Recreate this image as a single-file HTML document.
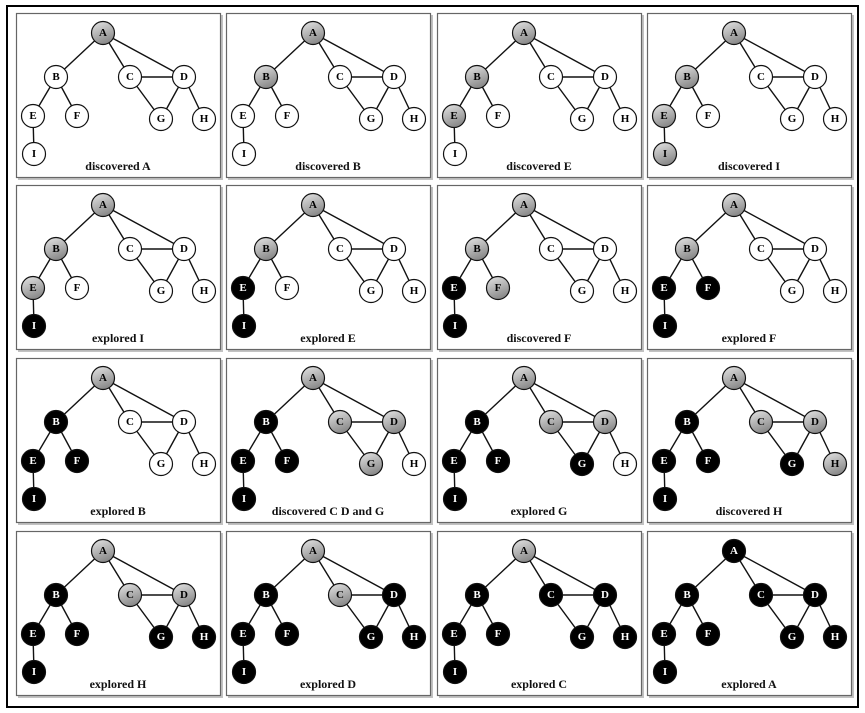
<!DOCTYPE html>
<html><head><meta charset="utf-8"><style>
html,body{margin:0;padding:0;background:#fff;}
svg{display:block;}
text{font-family:"Liberation Serif",serif;font-weight:bold;}
.n{font-size:11px;text-anchor:middle;dominant-baseline:central;}
.l{font-size:12px;text-anchor:middle;fill:#111;}
.w{fill:#fff;} .k{fill:#000;}
</style></head><body>
<svg width="865" height="713" viewBox="0 0 865 713" xmlns="http://www.w3.org/2000/svg">
<defs>
<linearGradient id="gr" x1="0" y1="0" x2="0.4" y2="1">
<stop offset="0" stop-color="#e6e6e6"/><stop offset="1" stop-color="#8c8c8c"/>
</linearGradient>
<g id="p">
<rect x="2" y="2" width="205" height="165" fill="#999" opacity="0.6"/>
<rect x="0.5" y="0.5" width="204" height="164" fill="#fff" stroke="#666" stroke-width="1.2"/>
<g stroke="#111" stroke-width="1.4">
<line x1="87" y1="20" x2="40" y2="64"/><line x1="87" y1="20" x2="114" y2="64"/><line x1="87" y1="20" x2="168" y2="64"/>
<line x1="40" y1="64" x2="17" y2="103"/><line x1="40" y1="64" x2="61" y2="103"/>
<line x1="114" y1="64" x2="168" y2="64"/><line x1="114" y1="64" x2="145" y2="106"/>
<line x1="168" y1="64" x2="145" y2="106"/><line x1="168" y1="64" x2="188" y2="106"/>
<line x1="17" y1="103" x2="18" y2="141"/>
</g>
</g>
<circle id="A" cx="87" cy="20" r="11.5" stroke="#111" stroke-width="1.2"/>
<circle id="B" cx="40" cy="64" r="11.5" stroke="#111" stroke-width="1.2"/>
<circle id="C" cx="114" cy="64" r="11.5" stroke="#111" stroke-width="1.2"/>
<circle id="D" cx="168" cy="64" r="11.5" stroke="#111" stroke-width="1.2"/>
<circle id="E" cx="17" cy="103" r="11.5" stroke="#111" stroke-width="1.2"/>
<circle id="F" cx="61" cy="103" r="11.5" stroke="#111" stroke-width="1.2"/>
<circle id="G" cx="145" cy="106" r="11.5" stroke="#111" stroke-width="1.2"/>
<circle id="H" cx="188" cy="106" r="11.5" stroke="#111" stroke-width="1.2"/>
<circle id="I" cx="18" cy="141" r="11.5" stroke="#111" stroke-width="1.2"/>
</defs>
<rect x="7" y="6" width="851" height="701" fill="none" stroke="#000" stroke-width="2"/>

<!-- Row 1 -->
<g transform="translate(16,13)"><use href="#p"/>
<use href="#A" fill="url(#gr)"/><use href="#B" fill="#fff"/><use href="#C" fill="#fff"/><use href="#D" fill="#fff"/><use href="#E" fill="#fff"/><use href="#F" fill="#fff"/><use href="#G" fill="#fff"/><use href="#H" fill="#fff"/><use href="#I" fill="#fff"/>
<text class="n k" x="87" y="20">A</text><text class="n k" x="40" y="64">B</text><text class="n k" x="114" y="64">C</text><text class="n k" x="168" y="64">D</text><text class="n k" x="17" y="103">E</text><text class="n k" x="61" y="103">F</text><text class="n k" x="145" y="106">G</text><text class="n k" x="188" y="106">H</text><text class="n k" x="18" y="141">I</text>
<text class="l" x="102" y="157">discovered A</text></g>

<g transform="translate(226,13)"><use href="#p"/>
<use href="#A" fill="url(#gr)"/><use href="#B" fill="url(#gr)"/><use href="#C" fill="#fff"/><use href="#D" fill="#fff"/><use href="#E" fill="#fff"/><use href="#F" fill="#fff"/><use href="#G" fill="#fff"/><use href="#H" fill="#fff"/><use href="#I" fill="#fff"/>
<text class="n k" x="87" y="20">A</text><text class="n k" x="40" y="64">B</text><text class="n k" x="114" y="64">C</text><text class="n k" x="168" y="64">D</text><text class="n k" x="17" y="103">E</text><text class="n k" x="61" y="103">F</text><text class="n k" x="145" y="106">G</text><text class="n k" x="188" y="106">H</text><text class="n k" x="18" y="141">I</text>
<text class="l" x="102" y="157">discovered B</text></g>

<g transform="translate(437,13)"><use href="#p"/>
<use href="#A" fill="url(#gr)"/><use href="#B" fill="url(#gr)"/><use href="#C" fill="#fff"/><use href="#D" fill="#fff"/><use href="#E" fill="url(#gr)"/><use href="#F" fill="#fff"/><use href="#G" fill="#fff"/><use href="#H" fill="#fff"/><use href="#I" fill="#fff"/>
<text class="n k" x="87" y="20">A</text><text class="n k" x="40" y="64">B</text><text class="n k" x="114" y="64">C</text><text class="n k" x="168" y="64">D</text><text class="n k" x="17" y="103">E</text><text class="n k" x="61" y="103">F</text><text class="n k" x="145" y="106">G</text><text class="n k" x="188" y="106">H</text><text class="n k" x="18" y="141">I</text>
<text class="l" x="102" y="157">discovered E</text></g>

<g transform="translate(647,13)"><use href="#p"/>
<use href="#A" fill="url(#gr)"/><use href="#B" fill="url(#gr)"/><use href="#C" fill="#fff"/><use href="#D" fill="#fff"/><use href="#E" fill="url(#gr)"/><use href="#F" fill="#fff"/><use href="#G" fill="#fff"/><use href="#H" fill="#fff"/><use href="#I" fill="url(#gr)"/>
<text class="n k" x="87" y="20">A</text><text class="n k" x="40" y="64">B</text><text class="n k" x="114" y="64">C</text><text class="n k" x="168" y="64">D</text><text class="n k" x="17" y="103">E</text><text class="n k" x="61" y="103">F</text><text class="n k" x="145" y="106">G</text><text class="n k" x="188" y="106">H</text><text class="n k" x="18" y="141">I</text>
<text class="l" x="102" y="157">discovered I</text></g>

<!-- Row 2 -->
<g transform="translate(16,185)"><use href="#p"/>
<use href="#A" fill="url(#gr)"/><use href="#B" fill="url(#gr)"/><use href="#C" fill="#fff"/><use href="#D" fill="#fff"/><use href="#E" fill="url(#gr)"/><use href="#F" fill="#fff"/><use href="#G" fill="#fff"/><use href="#H" fill="#fff"/><use href="#I" fill="#000"/>
<text class="n k" x="87" y="20">A</text><text class="n k" x="40" y="64">B</text><text class="n k" x="114" y="64">C</text><text class="n k" x="168" y="64">D</text><text class="n k" x="17" y="103">E</text><text class="n k" x="61" y="103">F</text><text class="n k" x="145" y="106">G</text><text class="n k" x="188" y="106">H</text><text class="n w" x="18" y="141">I</text>
<text class="l" x="102" y="157">explored I</text></g>

<g transform="translate(226,185)"><use href="#p"/>
<use href="#A" fill="url(#gr)"/><use href="#B" fill="url(#gr)"/><use href="#C" fill="#fff"/><use href="#D" fill="#fff"/><use href="#E" fill="#000"/><use href="#F" fill="#fff"/><use href="#G" fill="#fff"/><use href="#H" fill="#fff"/><use href="#I" fill="#000"/>
<text class="n k" x="87" y="20">A</text><text class="n k" x="40" y="64">B</text><text class="n k" x="114" y="64">C</text><text class="n k" x="168" y="64">D</text><text class="n w" x="17" y="103">E</text><text class="n k" x="61" y="103">F</text><text class="n k" x="145" y="106">G</text><text class="n k" x="188" y="106">H</text><text class="n w" x="18" y="141">I</text>
<text class="l" x="102" y="157">explored E</text></g>

<g transform="translate(437,185)"><use href="#p"/>
<use href="#A" fill="url(#gr)"/><use href="#B" fill="url(#gr)"/><use href="#C" fill="#fff"/><use href="#D" fill="#fff"/><use href="#E" fill="#000"/><use href="#F" fill="url(#gr)"/><use href="#G" fill="#fff"/><use href="#H" fill="#fff"/><use href="#I" fill="#000"/>
<text class="n k" x="87" y="20">A</text><text class="n k" x="40" y="64">B</text><text class="n k" x="114" y="64">C</text><text class="n k" x="168" y="64">D</text><text class="n w" x="17" y="103">E</text><text class="n k" x="61" y="103">F</text><text class="n k" x="145" y="106">G</text><text class="n k" x="188" y="106">H</text><text class="n w" x="18" y="141">I</text>
<text class="l" x="102" y="157">discovered F</text></g>

<g transform="translate(647,185)"><use href="#p"/>
<use href="#A" fill="url(#gr)"/><use href="#B" fill="url(#gr)"/><use href="#C" fill="#fff"/><use href="#D" fill="#fff"/><use href="#E" fill="#000"/><use href="#F" fill="#000"/><use href="#G" fill="#fff"/><use href="#H" fill="#fff"/><use href="#I" fill="#000"/>
<text class="n k" x="87" y="20">A</text><text class="n k" x="40" y="64">B</text><text class="n k" x="114" y="64">C</text><text class="n k" x="168" y="64">D</text><text class="n w" x="17" y="103">E</text><text class="n w" x="61" y="103">F</text><text class="n k" x="145" y="106">G</text><text class="n k" x="188" y="106">H</text><text class="n w" x="18" y="141">I</text>
<text class="l" x="102" y="157">explored F</text></g>

<!-- Row 3 -->
<g transform="translate(16,358)"><use href="#p"/>
<use href="#A" fill="url(#gr)"/><use href="#B" fill="#000"/><use href="#C" fill="#fff"/><use href="#D" fill="#fff"/><use href="#E" fill="#000"/><use href="#F" fill="#000"/><use href="#G" fill="#fff"/><use href="#H" fill="#fff"/><use href="#I" fill="#000"/>
<text class="n k" x="87" y="20">A</text><text class="n w" x="40" y="64">B</text><text class="n k" x="114" y="64">C</text><text class="n k" x="168" y="64">D</text><text class="n w" x="17" y="103">E</text><text class="n w" x="61" y="103">F</text><text class="n k" x="145" y="106">G</text><text class="n k" x="188" y="106">H</text><text class="n w" x="18" y="141">I</text>
<text class="l" x="102" y="157">explored B</text></g>

<g transform="translate(226,358)"><use href="#p"/>
<use href="#A" fill="url(#gr)"/><use href="#B" fill="#000"/><use href="#C" fill="url(#gr)"/><use href="#D" fill="url(#gr)"/><use href="#E" fill="#000"/><use href="#F" fill="#000"/><use href="#G" fill="url(#gr)"/><use href="#H" fill="#fff"/><use href="#I" fill="#000"/>
<text class="n k" x="87" y="20">A</text><text class="n w" x="40" y="64">B</text><text class="n k" x="114" y="64">C</text><text class="n k" x="168" y="64">D</text><text class="n w" x="17" y="103">E</text><text class="n w" x="61" y="103">F</text><text class="n k" x="145" y="106">G</text><text class="n k" x="188" y="106">H</text><text class="n w" x="18" y="141">I</text>
<text class="l" x="102" y="157">discovered C D and G</text></g>

<g transform="translate(437,358)"><use href="#p"/>
<use href="#A" fill="url(#gr)"/><use href="#B" fill="#000"/><use href="#C" fill="url(#gr)"/><use href="#D" fill="url(#gr)"/><use href="#E" fill="#000"/><use href="#F" fill="#000"/><use href="#G" fill="#000"/><use href="#H" fill="#fff"/><use href="#I" fill="#000"/>
<text class="n k" x="87" y="20">A</text><text class="n w" x="40" y="64">B</text><text class="n k" x="114" y="64">C</text><text class="n k" x="168" y="64">D</text><text class="n w" x="17" y="103">E</text><text class="n w" x="61" y="103">F</text><text class="n w" x="145" y="106">G</text><text class="n k" x="188" y="106">H</text><text class="n w" x="18" y="141">I</text>
<text class="l" x="102" y="157">explored G</text></g>

<g transform="translate(647,358)"><use href="#p"/>
<use href="#A" fill="url(#gr)"/><use href="#B" fill="#000"/><use href="#C" fill="url(#gr)"/><use href="#D" fill="url(#gr)"/><use href="#E" fill="#000"/><use href="#F" fill="#000"/><use href="#G" fill="#000"/><use href="#H" fill="url(#gr)"/><use href="#I" fill="#000"/>
<text class="n k" x="87" y="20">A</text><text class="n w" x="40" y="64">B</text><text class="n k" x="114" y="64">C</text><text class="n k" x="168" y="64">D</text><text class="n w" x="17" y="103">E</text><text class="n w" x="61" y="103">F</text><text class="n w" x="145" y="106">G</text><text class="n k" x="188" y="106">H</text><text class="n w" x="18" y="141">I</text>
<text class="l" x="102" y="157">discovered H</text></g>

<!-- Row 4 -->
<g transform="translate(16,531)"><use href="#p"/>
<use href="#A" fill="url(#gr)"/><use href="#B" fill="#000"/><use href="#C" fill="url(#gr)"/><use href="#D" fill="url(#gr)"/><use href="#E" fill="#000"/><use href="#F" fill="#000"/><use href="#G" fill="#000"/><use href="#H" fill="#000"/><use href="#I" fill="#000"/>
<text class="n k" x="87" y="20">A</text><text class="n w" x="40" y="64">B</text><text class="n k" x="114" y="64">C</text><text class="n k" x="168" y="64">D</text><text class="n w" x="17" y="103">E</text><text class="n w" x="61" y="103">F</text><text class="n w" x="145" y="106">G</text><text class="n w" x="188" y="106">H</text><text class="n w" x="18" y="141">I</text>
<text class="l" x="102" y="157">explored H</text></g>

<g transform="translate(226,531)"><use href="#p"/>
<use href="#A" fill="url(#gr)"/><use href="#B" fill="#000"/><use href="#C" fill="url(#gr)"/><use href="#D" fill="#000"/><use href="#E" fill="#000"/><use href="#F" fill="#000"/><use href="#G" fill="#000"/><use href="#H" fill="#000"/><use href="#I" fill="#000"/>
<text class="n k" x="87" y="20">A</text><text class="n w" x="40" y="64">B</text><text class="n k" x="114" y="64">C</text><text class="n w" x="168" y="64">D</text><text class="n w" x="17" y="103">E</text><text class="n w" x="61" y="103">F</text><text class="n w" x="145" y="106">G</text><text class="n w" x="188" y="106">H</text><text class="n w" x="18" y="141">I</text>
<text class="l" x="102" y="157">explored D</text></g>

<g transform="translate(437,531)"><use href="#p"/>
<use href="#A" fill="url(#gr)"/><use href="#B" fill="#000"/><use href="#C" fill="#000"/><use href="#D" fill="#000"/><use href="#E" fill="#000"/><use href="#F" fill="#000"/><use href="#G" fill="#000"/><use href="#H" fill="#000"/><use href="#I" fill="#000"/>
<text class="n k" x="87" y="20">A</text><text class="n w" x="40" y="64">B</text><text class="n w" x="114" y="64">C</text><text class="n w" x="168" y="64">D</text><text class="n w" x="17" y="103">E</text><text class="n w" x="61" y="103">F</text><text class="n w" x="145" y="106">G</text><text class="n w" x="188" y="106">H</text><text class="n w" x="18" y="141">I</text>
<text class="l" x="102" y="157">explored C</text></g>

<g transform="translate(647,531)"><use href="#p"/>
<use href="#A" fill="#000"/><use href="#B" fill="#000"/><use href="#C" fill="#000"/><use href="#D" fill="#000"/><use href="#E" fill="#000"/><use href="#F" fill="#000"/><use href="#G" fill="#000"/><use href="#H" fill="#000"/><use href="#I" fill="#000"/>
<text class="n w" x="87" y="20">A</text><text class="n w" x="40" y="64">B</text><text class="n w" x="114" y="64">C</text><text class="n w" x="168" y="64">D</text><text class="n w" x="17" y="103">E</text><text class="n w" x="61" y="103">F</text><text class="n w" x="145" y="106">G</text><text class="n w" x="188" y="106">H</text><text class="n w" x="18" y="141">I</text>
<text class="l" x="102" y="157">explored A</text></g>
</svg>
</body></html>
